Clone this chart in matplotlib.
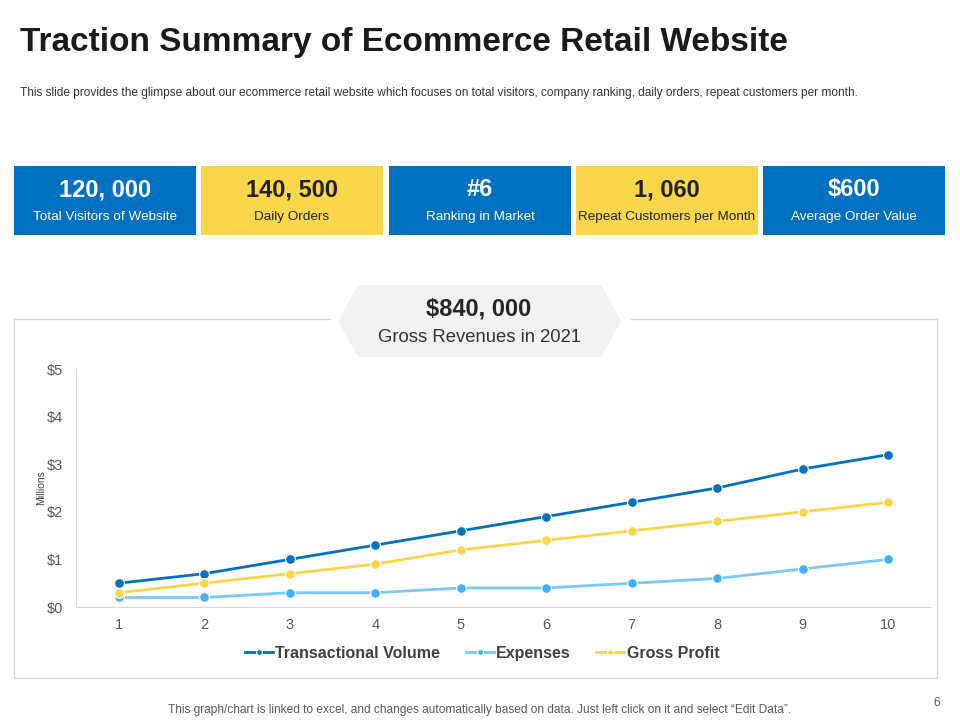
import matplotlib.pyplot as plt
from matplotlib.patches import Polygon, Rectangle
from matplotlib.lines import Line2D

plt.rcParams['font.family'] = ['Liberation Sans', 'DejaVu Sans']

# data
months = [1, 2, 3, 4, 5, 6, 7, 8, 9, 10]
transactional = [0.5, 0.7, 1.0, 1.3, 1.6, 1.9, 2.2, 2.5, 2.9, 3.2]
expenses = [0.2, 0.2, 0.3, 0.3, 0.4, 0.4, 0.5, 0.6, 0.8, 1.0]
gross_profit = [0.3, 0.5, 0.7, 0.9, 1.2, 1.4, 1.6, 1.8, 2.0, 2.2]
y_ticks = [0, 1, 2, 3, 4, 5]
y_labels = ['$0', '$1', '$2', '$3', '$4', '$5']

kpi_values = ['120, 000', '140, 500', '#6', '1, 060', '$600']
kpi_labels = ['Total Visitors of Website', 'Daily Orders', 'Ranking in Market',
              'Repeat Customers per Month', 'Average Order Value']

BLUE = '#0070C0'
YELLOW = '#F9D64A'
LIGHT = '#7CC8FB'
W, H = 960, 720

fig = plt.figure(figsize=(9.6, 7.2), dpi=100)
bg = fig.add_axes([0, 0, 1, 1])
bg.set_xlim(0, W)
bg.set_ylim(H, 0)
bg.axis('off')

bg.text(20, 42, 'Traction Summary of Ecommerce Retail Website', fontsize=24,
        fontweight='bold', color='#1a1a1a', va='center', ha='left')
bg.text(20, 93, 'This slide provides the glimpse about our ecommerce retail website which focuses on '
        'total visitors, company ranking, daily orders, repeat customers per month.',
        fontsize=8.6, color='#333333', va='center', ha='left')

# kpi boxes
box_x = [14, 201, 389, 576, 763]
box_w = 182
for i, (val, lab) in enumerate(zip(kpi_values, kpi_labels)):
    col = BLUE if i % 2 == 0 else YELLOW
    tcol = 'white' if i % 2 == 0 else '#222222'
    bg.add_patch(Rectangle((box_x[i], 166), box_w, 69, facecolor=col, edgecolor='none'))
    cx = box_x[i] + box_w / 2
    bg.text(cx, 190, val, fontsize=17, fontweight='bold', color=tcol, ha='center', va='center')
    bg.text(cx, 217, lab, fontsize=9.7, color=tcol, ha='center', va='center')

# chart frame with gap for the badge
fc = '#D9D9D9'
bg.add_line(Line2D([14, 330], [319, 319], color=fc, lw=1))
bg.add_line(Line2D([631, 937], [319, 319], color=fc, lw=1))
bg.add_line(Line2D([14, 14, 937, 937], [319, 678, 678, 319], color=fc, lw=1))

hexagon = Polygon([(338, 321), (358, 285), (601, 285), (621, 321), (601, 357), (358, 357)],
                  closed=True, facecolor='#F2F2F2', edgecolor='none')
bg.add_patch(hexagon)
bg.text(479, 309, '$840, 000', fontsize=17, fontweight='bold', color='#262626', ha='center', va='center')
bg.text(479, 337, 'Gross Revenues in 2021', fontsize=13.3, color='#333333', ha='center', va='center')

bg.text(480, 710, 'This graph/chart is linked to excel, and changes automatically based on data. '
        'Just left click on it and select \u201cEdit Data\u201d.',
        fontsize=8.6, color='#595959', ha='center', va='center')
bg.text(937, 703, '6', fontsize=8.6, color='#595959', ha='center', va='center')

# line chart
ax = fig.add_axes([76 / W, 1 - 607 / H, (931 - 76) / W, (607 - 369) / H])
ax.set_facecolor('none')
ax.plot(months, transactional, '-o', color=BLUE, lw=2, markersize=7,
        markeredgecolor='white', markeredgewidth=0.8, label='Transactional Volume')
ax.plot(months, expenses, '-o', color=LIGHT, lw=2, markersize=7, markerfacecolor='#40B0FF',
        markeredgecolor='white', markeredgewidth=0.8, label='Expenses')
ax.plot(months, gross_profit, '-o', color=YELLOW, lw=2, markersize=7,
        markeredgecolor='white', markeredgewidth=0.8, label='Gross Profit')
ax.set_xlim(0.5, 10.5)
ax.set_ylim(0, 5)
ax.set_xticks(months)
ax.set_yticks(y_ticks)
ax.set_yticklabels(y_labels)
ax.tick_params(length=0, labelsize=10.5, labelcolor='#595959')
ax.tick_params(axis='x', pad=8)
ax.tick_params(axis='y', pad=9)
for s in ['top', 'right']:
    ax.spines[s].set_visible(False)
for s in ['left', 'bottom']:
    ax.spines[s].set_color(fc)
ax.set_ylabel('Millions', fontsize=7.5, color='#404040', labelpad=1)

leg = ax.legend(loc='center', bbox_to_anchor=(0.475, -0.195), ncol=3, frameon=False,
                fontsize=11.5, handlelength=1.75, handletextpad=0.15, columnspacing=1.6,
                markerscale=0.6)
for t in leg.get_texts():
    t.set_color('#404040')
    t.set_fontweight('bold')

fig.savefig('out.png', dpi=100)
